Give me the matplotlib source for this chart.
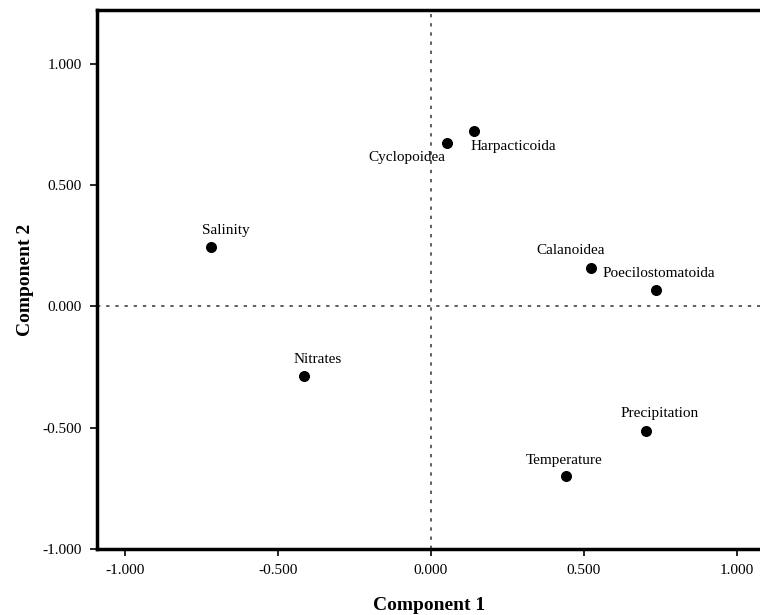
import matplotlib.pyplot as plt

# component loadings
names = ["Salinity", "Nitrates", "Cyclopoidea", "Harpacticoida", "Calanoidea",
         "Poecilostomatoida", "Precipitation", "Temperature"]
comp1 = [-0.719, -0.415, 0.052, 0.141, 0.523, 0.735, 0.703, 0.441]
comp2 = [0.243, -0.288, 0.675, 0.724, 0.160, 0.066, -0.514, -0.700]

# label offsets in points (x, y), as SPSS placed them
offsets = [(11, 12), (10, 12), (-29, -11), (28, -11), (-15, 12), (2, 12), (10, 13), (-1, 11)]

ticks = [-1.0, -0.5, 0.0, 0.5, 1.0]
tick_labels = ["-1.000", "-0.500", "0.000", "0.500", "1.000"]

plt.rcParams['font.family'] = ['Liberation Serif', 'DejaVu Serif']

fig = plt.figure(figsize=(7.6, 6.15), dpi=100)
ax = fig.add_axes([97 / 760, 66 / 615, 665 / 760, 539 / 615])

ax.axhline(0, color='#444444', lw=1.2, ls=(0, (2, 3.5)), zorder=1)
ax.axvline(0, color='#444444', lw=1.2, ls=(0, (2, 3.5)), zorder=1)

ax.scatter(comp1, comp2, s=48, color='black', zorder=3)
for n, x, y, (dx, dy) in zip(names, comp1, comp2, offsets):
    ax.annotate(n, (x, y), xytext=(dx, dy), textcoords='offset points',
                ha='center', va='center', fontsize=11)

ax.set_xlim(-1.0915, 1.0817)
ax.set_ylim(-1.0, 1.222)
ax.set_xticks(ticks)
ax.set_xticklabels(tick_labels)
ax.set_yticks(ticks)
ax.set_yticklabels(tick_labels)
ax.tick_params(labelsize=11, width=1.2, length=5, direction='out', pad=6)

for s in ['left', 'top', 'bottom']:
    ax.spines[s].set_linewidth(2.5)
ax.spines['right'].set_visible(False)

ax.set_xlabel("Component 1", fontsize=14, fontweight='bold', labelpad=14)
ax.set_ylabel("Component 2", fontsize=14, fontweight='bold', labelpad=6)

fig.savefig("out.png", dpi=100)
